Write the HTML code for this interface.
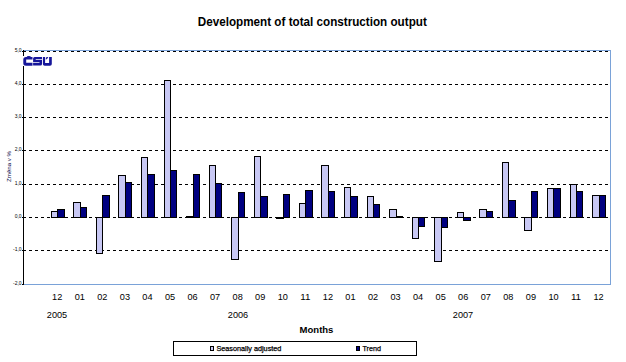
<!DOCTYPE html>
<html><head><meta charset="utf-8"><style>
html,body{margin:0;padding:0;background:#fff;}
body{width:626px;height:362px;overflow:hidden;position:relative;}
svg{position:absolute;left:0;top:0;font-family:"Liberation Sans",sans-serif;}
</style></head><body>
<svg width="626" height="362" viewBox="0 0 626 362" shape-rendering="crispEdges">
<rect x="0" y="0" width="626" height="362" fill="#fff"/>
<text x="312.3" y="25.8" text-anchor="middle" textLength="229" lengthAdjust="spacingAndGlyphs" font-size="13.6" font-weight="bold" fill="#000">Development of total construction output</text>
<!-- plot border -->
<rect x="23.5" y="50.5" width="587" height="234" fill="none" stroke="#7aa2d8" stroke-width="1"/>
<line x1="23" y1="51.5" x2="609" y2="51.5" stroke="#000" stroke-width="1" stroke-dasharray="3 3"/><line x1="23" y1="84.5" x2="609" y2="84.5" stroke="#000" stroke-width="1" stroke-dasharray="3 3"/><line x1="23" y1="117.5" x2="609" y2="117.5" stroke="#000" stroke-width="1" stroke-dasharray="3 3"/><line x1="23" y1="150.5" x2="609" y2="150.5" stroke="#000" stroke-width="1" stroke-dasharray="3 3"/><line x1="23" y1="184.5" x2="609" y2="184.5" stroke="#000" stroke-width="1" stroke-dasharray="3 3"/><line x1="23" y1="217.5" x2="609" y2="217.5" stroke="#000" stroke-width="1" stroke-dasharray="3 3"/><line x1="23" y1="250.5" x2="609" y2="250.5" stroke="#000" stroke-width="1" stroke-dasharray="3 3"/>
<rect x="23" y="50" width="1" height="235" fill="#000"/>
<rect x="22" y="51" width="1" height="1" fill="#000"/><rect x="22" y="84" width="1" height="1" fill="#000"/><rect x="22" y="117" width="1" height="1" fill="#000"/><rect x="22" y="150" width="1" height="1" fill="#000"/><rect x="22" y="184" width="1" height="1" fill="#000"/><rect x="22" y="217" width="1" height="1" fill="#000"/><rect x="22" y="250" width="1" height="1" fill="#000"/><rect x="22" y="284" width="1" height="1" fill="#000"/>
<rect x="51" y="211" width="7" height="7" fill="#000"/><rect x="52" y="212" width="5" height="5" fill="#c8c8f4"/><rect x="57" y="209" width="8" height="9" fill="#000"/><rect x="58" y="210" width="6" height="7" fill="#000080"/><rect x="73" y="202" width="8" height="16" fill="#000"/><rect x="74" y="203" width="6" height="14" fill="#c8c8f4"/><rect x="80" y="207" width="7" height="11" fill="#000"/><rect x="81" y="208" width="5" height="9" fill="#000080"/><rect x="96" y="217" width="7" height="37" fill="#000"/><rect x="97" y="218" width="5" height="35" fill="#c8c8f4"/><rect x="102" y="195" width="8" height="23" fill="#000"/><rect x="103" y="196" width="6" height="21" fill="#000080"/><rect x="118" y="175" width="8" height="43" fill="#000"/><rect x="119" y="176" width="6" height="41" fill="#c8c8f4"/><rect x="125" y="182" width="7" height="36" fill="#000"/><rect x="126" y="183" width="5" height="34" fill="#000080"/><rect x="141" y="157" width="7" height="61" fill="#000"/><rect x="142" y="158" width="5" height="59" fill="#c8c8f4"/><rect x="147" y="174" width="8" height="44" fill="#000"/><rect x="148" y="175" width="6" height="42" fill="#000080"/><rect x="164" y="80" width="7" height="138" fill="#000"/><rect x="165" y="81" width="5" height="136" fill="#c8c8f4"/><rect x="170" y="170" width="7" height="48" fill="#000"/><rect x="171" y="171" width="5" height="46" fill="#000080"/><rect x="186" y="216" width="8" height="2" fill="#000"/><rect x="193" y="174" width="7" height="44" fill="#000"/><rect x="194" y="175" width="5" height="42" fill="#000080"/><rect x="209" y="165" width="7" height="53" fill="#000"/><rect x="210" y="166" width="5" height="51" fill="#c8c8f4"/><rect x="215" y="183" width="7" height="35" fill="#000"/><rect x="216" y="184" width="5" height="33" fill="#000080"/><rect x="231" y="217" width="8" height="43" fill="#000"/><rect x="232" y="218" width="6" height="41" fill="#c8c8f4"/><rect x="238" y="192" width="7" height="26" fill="#000"/><rect x="239" y="193" width="5" height="24" fill="#000080"/><rect x="254" y="156" width="7" height="62" fill="#000"/><rect x="255" y="157" width="5" height="60" fill="#c8c8f4"/><rect x="260" y="196" width="8" height="22" fill="#000"/><rect x="261" y="197" width="6" height="20" fill="#000080"/><rect x="276" y="217" width="8" height="2" fill="#000"/><rect x="283" y="194" width="7" height="24" fill="#000"/><rect x="284" y="195" width="5" height="22" fill="#000080"/><rect x="299" y="203" width="7" height="15" fill="#000"/><rect x="300" y="204" width="5" height="13" fill="#c8c8f4"/><rect x="305" y="190" width="8" height="28" fill="#000"/><rect x="306" y="191" width="6" height="26" fill="#000080"/><rect x="321" y="165" width="8" height="53" fill="#000"/><rect x="322" y="166" width="6" height="51" fill="#c8c8f4"/><rect x="328" y="191" width="7" height="27" fill="#000"/><rect x="329" y="192" width="5" height="25" fill="#000080"/><rect x="344" y="187" width="7" height="31" fill="#000"/><rect x="345" y="188" width="5" height="29" fill="#c8c8f4"/><rect x="350" y="196" width="8" height="22" fill="#000"/><rect x="351" y="197" width="6" height="20" fill="#000080"/><rect x="367" y="196" width="7" height="22" fill="#000"/><rect x="368" y="197" width="5" height="20" fill="#c8c8f4"/><rect x="373" y="204" width="7" height="14" fill="#000"/><rect x="374" y="205" width="5" height="12" fill="#000080"/><rect x="389" y="209" width="8" height="9" fill="#000"/><rect x="390" y="210" width="6" height="7" fill="#c8c8f4"/><rect x="396" y="216" width="7" height="2" fill="#000"/><rect x="412" y="217" width="7" height="22" fill="#000"/><rect x="413" y="218" width="5" height="20" fill="#c8c8f4"/><rect x="418" y="217" width="7" height="10" fill="#000"/><rect x="419" y="218" width="5" height="8" fill="#000080"/><rect x="434" y="217" width="8" height="45" fill="#000"/><rect x="435" y="218" width="6" height="43" fill="#c8c8f4"/><rect x="441" y="217" width="7" height="11" fill="#000"/><rect x="442" y="218" width="5" height="9" fill="#000080"/><rect x="457" y="212" width="7" height="6" fill="#000"/><rect x="458" y="213" width="5" height="4" fill="#c8c8f4"/><rect x="463" y="217" width="8" height="4" fill="#000"/><rect x="464" y="218" width="6" height="2" fill="#000080"/><rect x="479" y="209" width="8" height="9" fill="#000"/><rect x="480" y="210" width="6" height="7" fill="#c8c8f4"/><rect x="486" y="211" width="7" height="7" fill="#000"/><rect x="487" y="212" width="5" height="5" fill="#000080"/><rect x="502" y="162" width="7" height="56" fill="#000"/><rect x="503" y="163" width="5" height="54" fill="#c8c8f4"/><rect x="508" y="200" width="8" height="18" fill="#000"/><rect x="509" y="201" width="6" height="16" fill="#000080"/><rect x="524" y="217" width="8" height="14" fill="#000"/><rect x="525" y="218" width="6" height="12" fill="#c8c8f4"/><rect x="531" y="191" width="7" height="27" fill="#000"/><rect x="532" y="192" width="5" height="25" fill="#000080"/><rect x="547" y="188" width="7" height="30" fill="#000"/><rect x="548" y="189" width="5" height="28" fill="#c8c8f4"/><rect x="553" y="188" width="8" height="30" fill="#000"/><rect x="554" y="189" width="6" height="28" fill="#000080"/><rect x="570" y="184" width="7" height="34" fill="#000"/><rect x="571" y="185" width="5" height="32" fill="#c8c8f4"/><rect x="576" y="191" width="7" height="27" fill="#000"/><rect x="577" y="192" width="5" height="25" fill="#000080"/><rect x="592" y="195" width="8" height="23" fill="#000"/><rect x="593" y="196" width="6" height="21" fill="#c8c8f4"/><rect x="599" y="195" width="7" height="23" fill="#000"/><rect x="600" y="196" width="5" height="21" fill="#000080"/>
<g shape-rendering="geometricPrecision">
<text x="21.6" y="52.2" text-anchor="end" font-size="5" fill="#000">5,0</text><text x="21.6" y="85.2" text-anchor="end" font-size="5" fill="#000">4,0</text><text x="21.6" y="118.2" text-anchor="end" font-size="5" fill="#000">3,0</text><text x="21.6" y="151.2" text-anchor="end" font-size="5" fill="#000">2,0</text><text x="21.6" y="185.2" text-anchor="end" font-size="5" fill="#000">1,0</text><text x="21.6" y="218.2" text-anchor="end" font-size="5" fill="#000">0,0</text><text x="21.6" y="251.2" text-anchor="end" font-size="5" fill="#000">-1,0</text><text x="21.6" y="285.2" text-anchor="end" font-size="5" fill="#000">-2,0</text>
<text transform="translate(11.3,166.5) rotate(-90)" text-anchor="middle" font-size="4.5" fill="#000040" textLength="31" lengthAdjust="spacingAndGlyphs">Změna v %</text>
</g>
<!-- logo -->
<rect x="23" y="56" width="30" height="10" fill="#fff"/>
<g fill="#16169a" shape-rendering="geometricPrecision">
<path d="M32.5,57.1 H26 Q23.3,57.1 23.3,59.6 V63.2 Q23.3,65.7 26,65.7 H32.5 V62.8 H26.2 V59.5 H32.5 Z"/>
<ellipse cx="28.8" cy="57.3" rx="2.2" ry="1.2"/>
<path d="M34.6,57 H42 V59.3 H35.7 V60 H42 V64.1 Q42,65.6 40.5,65.6 H33.1 V62.8 H39.5 V62.1 H33.1 V58.5 Q33.1,57 34.6,57 Z"/>
<path d="M42.9,57 H45.1 V63 H49.1 V57 H51.8 V64 Q51.8,65.7 50,65.7 H44.7 Q42.9,65.7 42.9,64 Z"/>
<path d="M45.5,59.3 L46.5,57.1 L48.3,57.1 L46.9,59.3 Z"/>
</g>
<g shape-rendering="geometricPrecision">
<text x="57.2" y="300" text-anchor="middle" font-size="9.8" textLength="10.2" lengthAdjust="spacingAndGlyphs">12</text><text x="79.8" y="300" text-anchor="middle" font-size="9.8" textLength="10.2" lengthAdjust="spacingAndGlyphs">01</text><text x="102.3" y="300" text-anchor="middle" font-size="9.8" textLength="10.2" lengthAdjust="spacingAndGlyphs">02</text><text x="124.9" y="300" text-anchor="middle" font-size="9.8" textLength="10.2" lengthAdjust="spacingAndGlyphs">03</text><text x="147.4" y="300" text-anchor="middle" font-size="9.8" textLength="10.2" lengthAdjust="spacingAndGlyphs">04</text><text x="170.0" y="300" text-anchor="middle" font-size="9.8" textLength="10.2" lengthAdjust="spacingAndGlyphs">05</text><text x="192.5" y="300" text-anchor="middle" font-size="9.8" textLength="10.2" lengthAdjust="spacingAndGlyphs">06</text><text x="215.1" y="300" text-anchor="middle" font-size="9.8" textLength="10.2" lengthAdjust="spacingAndGlyphs">07</text><text x="237.7" y="300" text-anchor="middle" font-size="9.8" textLength="10.2" lengthAdjust="spacingAndGlyphs">08</text><text x="260.2" y="300" text-anchor="middle" font-size="9.8" textLength="10.2" lengthAdjust="spacingAndGlyphs">09</text><text x="282.8" y="300" text-anchor="middle" font-size="9.8" textLength="10.2" lengthAdjust="spacingAndGlyphs">10</text><text x="305.3" y="300" text-anchor="middle" font-size="9.8" textLength="10.2" lengthAdjust="spacingAndGlyphs">11</text><text x="327.9" y="300" text-anchor="middle" font-size="9.8" textLength="10.2" lengthAdjust="spacingAndGlyphs">12</text><text x="350.4" y="300" text-anchor="middle" font-size="9.8" textLength="10.2" lengthAdjust="spacingAndGlyphs">01</text><text x="373.0" y="300" text-anchor="middle" font-size="9.8" textLength="10.2" lengthAdjust="spacingAndGlyphs">02</text><text x="395.6" y="300" text-anchor="middle" font-size="9.8" textLength="10.2" lengthAdjust="spacingAndGlyphs">03</text><text x="418.1" y="300" text-anchor="middle" font-size="9.8" textLength="10.2" lengthAdjust="spacingAndGlyphs">04</text><text x="440.7" y="300" text-anchor="middle" font-size="9.8" textLength="10.2" lengthAdjust="spacingAndGlyphs">05</text><text x="463.2" y="300" text-anchor="middle" font-size="9.8" textLength="10.2" lengthAdjust="spacingAndGlyphs">06</text><text x="485.8" y="300" text-anchor="middle" font-size="9.8" textLength="10.2" lengthAdjust="spacingAndGlyphs">07</text><text x="508.3" y="300" text-anchor="middle" font-size="9.8" textLength="10.2" lengthAdjust="spacingAndGlyphs">08</text><text x="530.9" y="300" text-anchor="middle" font-size="9.8" textLength="10.2" lengthAdjust="spacingAndGlyphs">09</text><text x="553.5" y="300" text-anchor="middle" font-size="9.8" textLength="10.2" lengthAdjust="spacingAndGlyphs">10</text><text x="576.0" y="300" text-anchor="middle" font-size="9.8" textLength="10.2" lengthAdjust="spacingAndGlyphs">11</text><text x="598.6" y="300" text-anchor="middle" font-size="9.8" textLength="10.2" lengthAdjust="spacingAndGlyphs">12</text>
<text x="57" y="318" text-anchor="middle" font-size="9.8" textLength="20.4" lengthAdjust="spacingAndGlyphs">2005</text>
<text x="238" y="318" text-anchor="middle" font-size="9.8" textLength="20.4" lengthAdjust="spacingAndGlyphs">2006</text>
<text x="463" y="318" text-anchor="middle" font-size="9.8" textLength="20.4" lengthAdjust="spacingAndGlyphs">2007</text>
<text x="316.5" y="333" text-anchor="middle" font-size="9.5" font-weight="bold">Months</text>
</g>
<!-- legend -->
<rect x="173.5" y="341.5" width="243" height="14" fill="#fff" stroke="#000" stroke-width="1"/>
<rect x="210" y="346" width="4" height="5" fill="#000"/>
<rect x="211" y="347" width="2" height="3" fill="#c8c8f4"/>
<rect x="356" y="346" width="4" height="5" fill="#000"/>
<rect x="357" y="347" width="2" height="3" fill="#000080"/>
<g shape-rendering="geometricPrecision">
<text x="216.4" y="351" font-size="7" stroke="#000" stroke-width="0.25" textLength="65" lengthAdjust="spacingAndGlyphs">Seasonally adjusted</text>
<text x="362.5" y="351" font-size="7" stroke="#000" stroke-width="0.25" textLength="18.5" lengthAdjust="spacingAndGlyphs">Trend</text>
</g>
</svg>
</body></html>
